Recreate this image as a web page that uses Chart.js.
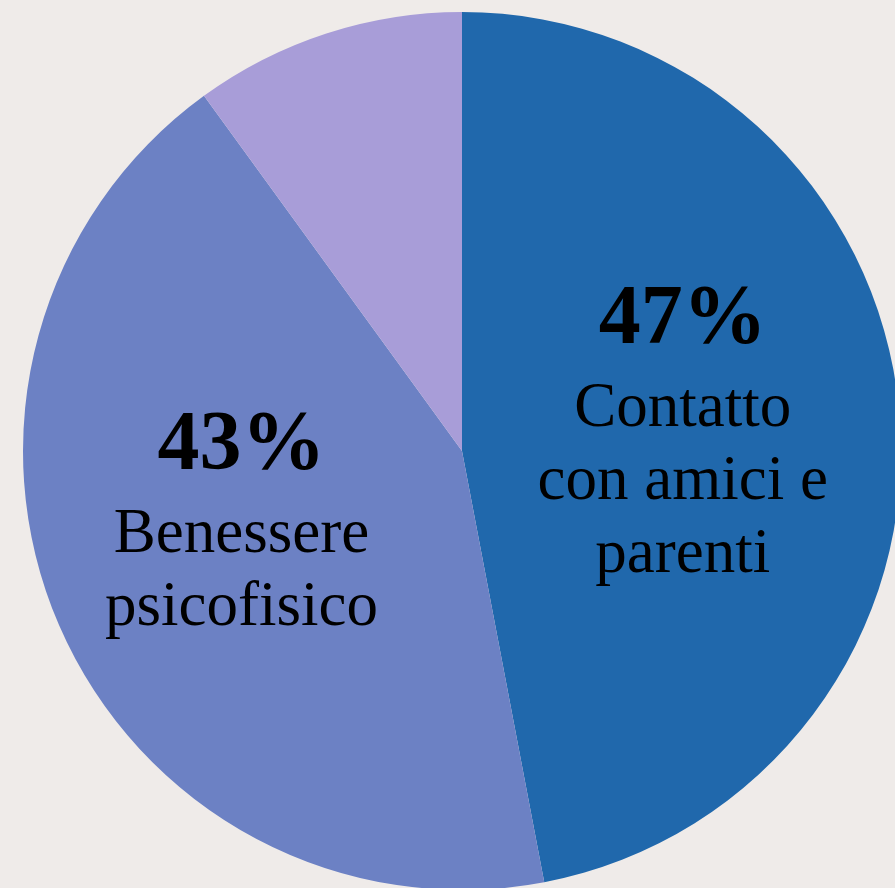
<!DOCTYPE html>
<html>
<head>
<meta charset="utf-8">
<script src="https://cdn.jsdelivr.net/npm/chart.js@4/dist/chart.umd.min.js"></script>
<style>
  html, body { margin: 0; padding: 0; background: #efebe9; overflow: hidden; }
  #wrap { position: absolute; left: 0; top: 0; width: 901px; height: 890px; }
</style>
</head>
<body>
<div id="wrap"><canvas id="pie"></canvas></div>
<script>
// slice names, split the way they are printed inside the pie
const categories = [
  ['Contatto', 'con amici e', 'parenti'],
  ['Benessere', 'psicofisico'],
  []
];
// share of answers, percent
const shares = [47, 43, 10];
const sliceColors = ['#2068ac', '#6c81c4', '#a89dd8'];

// writes the percentage and the name in the middle of each slice
const sliceText = {
  id: 'sliceText',
  afterDatasetsDraw(chart, args, opts) {
    const ctx = chart.ctx;
    const meta = chart.getDatasetMeta(0);
    meta.data.forEach((arc, i) => {
      const lines = categories[i];
      if (!lines.length) return;
      const p = arc.getProps(['x', 'y', 'startAngle', 'endAngle', 'outerRadius'], true);
      const mid = (p.startAngle + p.endAngle) / 2;
      const shift = opts.shift[i] || [0, 0];
      const ax = p.x + Math.cos(mid) * p.outerRadius * 0.505 + shift[0];
      const ay = p.y + Math.sin(mid) * p.outerRadius * 0.505 + shift[1];
      // block height: digit height + gap to first line + line spacing
      const h = 59 + 83 + 73 * (lines.length - 1);
      let y = ay - h / 2 + 59;
      ctx.save();
      ctx.fillStyle = '#000';
      ctx.textAlign = 'center';
      ctx.textBaseline = 'alphabetic';
      ctx.font = 'bold 84px "Liberation Serif"';
      ctx.fillText(shares[i] + '%', ax, y);
      ctx.font = '63px "Liberation Serif"';
      y += 83;
      lines.forEach(line => {
        ctx.fillText(line, ax, y);
        y += 73;
      });
      ctx.restore();
    });
  }
};

new Chart(document.getElementById('pie'), {
  type: 'pie',
  plugins: [sliceText],
  data: {
    labels: categories.map(l => l.join(' ')),
    datasets: [{
      data: shares,
      backgroundColor: sliceColors,
      borderWidth: 0
    }]
  },
  options: {
    responsive: true,
    maintainAspectRatio: false,
    animation: false,
    layout: { padding: { left: 23, top: 12 } },
    plugins: {
      legend: { display: false },
      tooltip: { enabled: false },
      sliceText: { shift: [[0, -2], [-17, -22], [0, 0]] }
    }
  }
});
</script>
</body>
</html>
